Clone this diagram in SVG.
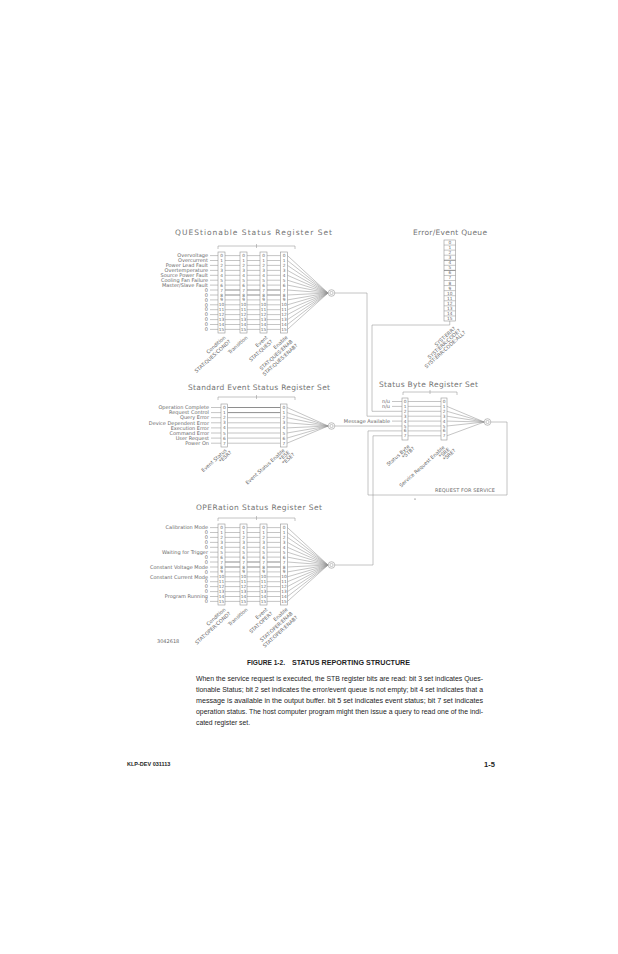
<svg xmlns="http://www.w3.org/2000/svg" width="618" height="954" viewBox="0 0 618 954">
<style>
.t{font-family:"DejaVu Sans","Liberation Sans",sans-serif;fill:#6a6a6a}
.ttl{font-size:7.5px;fill:#747474}
.lb{font-size:5px;text-anchor:end}
.n{font-size:4.3px;text-anchor:middle}
.r{font-size:5px;text-anchor:end}
.ln{fill:none;stroke:#959595;stroke-width:0.55}
.dk{fill:none;stroke:#7a7a7a;stroke-width:0.85}
.bx{fill:#fff;stroke:#959595;stroke-width:0.6}
.b{font-family:"Liberation Sans",Arial,sans-serif;fill:#1e1e1e}
</style>
<defs>
<g id="c16">
<rect class="bx" x="0" y="0" width="7" height="81"/>
<g class="t n">
<text x="3.5" y="5.1">0</text><text x="3.5" y="10">1</text><text x="3.5" y="14.9">2</text><text x="3.5" y="19.9">3</text>
<text x="3.5" y="24.8">4</text><text x="3.5" y="29.7">5</text><text x="3.5" y="34.6">6</text><text x="3.5" y="39.5">7</text>
<text x="3.5" y="44.5">8</text><text x="3.5" y="49.4">9</text><text x="3.5" y="54.3">10</text><text x="3.5" y="59.2">11</text>
<text x="3.5" y="64.1">12</text><text x="3.5" y="69.1">13</text><text x="3.5" y="74">14</text><text x="3.5" y="78.9">15</text>
</g>
</g>
<g id="reg16">
<path class="ln" d="M-8 3.6H0M-8 8.5H0M-8 13.4H0M-8 18.4H0M-8 23.3H0M-8 28.2H0M-8 33.1H0M-8 38H0M-8 43H0M-8 47.9H0M-8 52.8H0M-8 57.7H0M-8 62.6H0M-8 67.6H0M-8 72.5H0M-8 77.4H0"/>
<path class="ln" d="M7 3.6H22M29 3.6H42M49 3.6H62.5M7 8.5H22M29 8.5H42M49 8.5H62.5M7 13.4H22M29 13.4H42M49 13.4H62.5M7 18.4H22M29 18.4H42M49 18.4H62.5M7 23.3H22M29 23.3H42M49 23.3H62.5M7 28.2H22M29 28.2H42M49 28.2H62.5M7 33.1H22M29 33.1H42M49 33.1H62.5M7 47.9H22M29 47.9H42M49 47.9H62.5M7 52.8H22M29 52.8H42M49 52.8H62.5M7 57.7H22M29 57.7H42M49 57.7H62.5M7 62.6H22M29 62.6H42M49 62.6H62.5M7 67.6H22M29 67.6H42M49 67.6H62.5M7 72.5H22M29 72.5H42M49 72.5H62.5M7 77.4H22M29 77.4H42M49 77.4H62.5"/>
<path class="dk" d="M7 38H22M29 38H42M49 38H62.5M7 43H22M29 43H42M49 43H62.5"/>
<use href="#c16" x="0" y="0"/>
<use href="#c16" x="22" y="0"/>
<use href="#c16" x="42" y="0"/>
<use href="#c16" x="62.5" y="0"/>
<path class="ln" d="M69.5 3.6L110 41M69.5 8.5L110 41M69.5 13.4L110 41M69.5 18.4L110 41M69.5 23.3L110 41M69.5 28.2L110 41M69.5 33.1L110 41M69.5 38L110 41M69.5 43L110 41M69.5 47.9L110 41M69.5 52.8L110 41M69.5 57.7L110 41M69.5 62.6L110 41M69.5 67.6L110 41M69.5 72.5L110 41M69.5 77.4L110 41"/>
<circle class="bx" cx="113.5" cy="41" r="3.3"/>
<circle class="ln" cx="113.5" cy="41" r="1.6"/>
</g>
</defs>
<rect width="618" height="954" fill="#fff"/>

<g id="connectors">
<path class="ln" d="M334.8 293H367V416.2H402"/>
<path class="ln" d="M449.75 321V325H372V411.3H402"/>
<path class="ln" d="M334.8 426H402"/>
<path class="ln" d="M334.8 565H373V435.8H402"/>
<path class="ln" d="M490.8 422H507V495H368V430.9H402"/>
</g>

<g id="ques">
<text class="t ttl" x="175" y="235" textLength="157" lengthAdjust="spacing">QUEStionable Status Register Set</text>
<path class="ln" d="M218 249V246H295V249M256.5 244V248"/>
<use href="#reg16" x="218" y="252"/>
<g class="t lb">
<text x="208" y="257.3">Overvoltage</text><text x="208" y="262.2">Overcurrent</text><text x="208" y="267.1">Power Lead Fault</text><text x="208" y="272.1">Overtemperature</text>
<text x="208" y="277">Source Power Fault</text><text x="208" y="281.9">Cooling Fan Failure</text><text x="208" y="286.8">Master/Slave Fault</text><text x="208" y="291.7">0</text>
<text x="208" y="296.7">0</text><text x="208" y="301.6">0</text><text x="208" y="306.5">0</text><text x="208" y="311.4">0</text>
<text x="208" y="316.3">0</text><text x="208" y="321.3">0</text><text x="208" y="326.2">0</text><text x="208" y="331.1">0</text>
</g>
<g class="t r">
<text transform="translate(226 338) rotate(-42)">Condition</text>
<text transform="translate(231 342) rotate(-42)">STAT:QUES:COND?</text>
<text transform="translate(248 338) rotate(-42)">Transition</text>
<text transform="translate(268 338) rotate(-42)">Event</text>
<text transform="translate(273 342) rotate(-42)">STAT:QUES?</text>
<text transform="translate(288 338) rotate(-42)">Enable</text>
<text transform="translate(293 342) rotate(-42)">STAT:QUES:ENAB</text>
<text transform="translate(298 346) rotate(-42)">STAT:QUES:ENAB?</text>
</g>
</g>

<g id="queue">
<text class="t ttl" x="413" y="235" textLength="74" lengthAdjust="spacing">Error/Event Queue</text>
<rect class="bx" x="444" y="240" width="11.5" height="81"/>
<path class="ln" d="M444 245.06H455.5M444 250.13H455.5M444 255.19H455.5M444 265.31H455.5M444 275.44H455.5M444 280.5H455.5M444 285.56H455.5M444 290.63H455.5M444 295.69H455.5M444 300.75H455.5M444 305.81H455.5M444 310.88H455.5M444 315.94H455.5"/>
<path class="dk" d="M444 260.25H455.5M444 270.38H455.5"/>
<g class="t n">
<text x="449.75" y="244">0</text><text x="449.75" y="249.1">1</text><text x="449.75" y="254.1">2</text><text x="449.75" y="259.2">3</text>
<text x="449.75" y="264.3">4</text><text x="449.75" y="269.3">5</text><text x="449.75" y="274.4">6</text><text x="449.75" y="279.4">7</text>
<text x="449.75" y="284.5">8</text><text x="449.75" y="289.6">9</text><text x="449.75" y="294.6">10</text><text x="449.75" y="299.7">11</text>
<text x="449.75" y="304.8">12</text><text x="449.75" y="309.8">13</text><text x="449.75" y="314.9">14</text><text x="449.75" y="319.9">15</text>
</g>
<g class="t r">
<text transform="translate(456 329) rotate(-42)">SYST:ERR?</text>
<text transform="translate(461 331) rotate(-42)">SYST:ERR:CODE?</text>
<text transform="translate(466 333) rotate(-42)">SYST:ERR:CODE:ALL?</text>
</g>
</g>

<g id="std">
<text class="t ttl" x="188" y="389.5" textLength="142" lengthAdjust="spacing">Standard Event Status Register Set</text>
<path class="ln" d="M218 400V397H295V400M256.5 395V399"/>
<path class="ln" d="M211 407.5H221M211 412.6H221M211 417.7H221M211 422.8H221M211 427.9H221M211 433H221M211 438.1H221M211 443.2H221"/>
<path class="dk" d="M227.5 407.5H280.5M227.5 412.6H280.5"/>
<path class="ln" d="M227.5 417.7H280.5M227.5 422.8H280.5M227.5 427.9H280.5M227.5 433H280.5M227.5 438.1H280.5M227.5 443.2H280.5"/>
<rect class="bx" x="221" y="404" width="6.5" height="43"/>
<rect class="bx" x="280.5" y="404" width="6.5" height="43"/>
<g class="t n">
<text x="224.25" y="409">0</text><text x="224.25" y="414.1">1</text><text x="224.25" y="419.2">2</text><text x="224.25" y="424.3">3</text>
<text x="224.25" y="429.4">4</text><text x="224.25" y="434.5">5</text><text x="224.25" y="439.6">6</text><text x="224.25" y="444.7">7</text>
<text x="283.75" y="409">0</text><text x="283.75" y="414.1">1</text><text x="283.75" y="419.2">2</text><text x="283.75" y="424.3">3</text>
<text x="283.75" y="429.4">4</text><text x="283.75" y="434.5">5</text><text x="283.75" y="439.6">6</text><text x="283.75" y="444.7">7</text>
</g>
<path class="ln" d="M287 407.5L328.2 426M287 412.6L328.2 426M287 417.7L328.2 426M287 422.8L328.2 426M287 427.9L328.2 426M287 433L328.2 426M287 438.1L328.2 426M287 443.2L328.2 426"/>
<circle class="bx" cx="331.5" cy="426" r="3.3"/>
<circle class="ln" cx="331.5" cy="426" r="1.6"/>
<g class="t lb">
<text x="209" y="409.2">Operation Complete</text><text x="209" y="414.3">Request Control</text><text x="209" y="419.4">Query Error</text><text x="209" y="424.5">Device Dependent Error</text>
<text x="209" y="429.6">Execution Error</text><text x="209" y="434.7">Command Error</text><text x="209" y="439.8">User Request</text><text x="209" y="444.9">Power On</text>
</g>
<g class="t r">
<text transform="translate(227 451) rotate(-42)">Event Status</text>
<text transform="translate(232 453) rotate(-42)">*ESR?</text>
<text transform="translate(285 451) rotate(-42)">Event Status Enable</text>
<text transform="translate(290 453) rotate(-42)">*ESE</text>
<text transform="translate(295 455) rotate(-42)">*ESE?</text>
</g>
</g>

<g id="stb">
<text class="t ttl" x="379" y="387" textLength="99" lengthAdjust="spacing">Status Byte Register Set</text>
<path class="ln" d="M403 395V392H457V395M430 390V394"/>
<path class="ln" d="M392 401.5H402M392 406.4H402M392 421.1H402"/>
<path class="ln" d="M408 401.5H441M408 406.4H441M408 411.3H441M408 416.2H441M408 421.1H441M408 426H441M408 430.9H441M408 435.8H441"/>
<rect class="bx" x="402" y="398" width="6" height="42"/>
<rect class="bx" x="441" y="398" width="6" height="42"/>
<g class="t n">
<text x="405" y="403">0</text><text x="405" y="407.9">1</text><text x="405" y="412.8">2</text><text x="405" y="417.7">3</text>
<text x="405" y="422.6">4</text><text x="405" y="427.5">5</text><text x="405" y="432.4">6</text><text x="405" y="437.3">7</text>
<text x="444" y="403">0</text><text x="444" y="407.9">1</text><text x="444" y="412.8">2</text><text x="444" y="417.7">3</text>
<text x="444" y="422.6">4</text><text x="444" y="427.5">5</text><text x="444" y="432.4">6</text><text x="444" y="437.3">7</text>
</g>
<path class="ln" d="M447 406.4L484.2 422M447 411.3L484.2 422M447 416.2L484.2 422M447 421.1L484.2 422M447 426L484.2 422M447 435.8L484.2 422"/>
<circle class="bx" cx="487.5" cy="422" r="3.3"/>
<circle class="ln" cx="487.5" cy="422" r="1.6"/>
<g class="t lb">
<text x="390" y="403.2">n/u</text><text x="390" y="408.1">n/u</text>
<text x="390" y="422.8">Message Available</text>
</g>
<g class="t r">
<text transform="translate(410 447) rotate(-42)">Status Byte</text>
<text transform="translate(415 449) rotate(-42)">*STB?</text>
<text transform="translate(445 448) rotate(-42)">Service Request Enable</text>
<text transform="translate(450 450) rotate(-42)">*SRE</text>
<text transform="translate(456 451) rotate(-42)">*SRE?</text>
</g>
<text class="t" x="435" y="492" font-size="5" textLength="60" lengthAdjust="spacing">REQUEST FOR SERVICE</text>
<circle cx="415" cy="499" r="0.6" fill="#444"/>
</g>

<g id="oper">
<text class="t ttl" x="196" y="510" textLength="126" lengthAdjust="spacing">OPERation Status Register Set</text>
<path class="ln" d="M218 521V518H295V521M256.5 516V520"/>
<use href="#reg16" x="218" y="524"/>
<g class="t lb">
<text x="208" y="529.3">Calibration Mode</text><text x="208" y="534.2">0</text><text x="208" y="539.1">0</text><text x="208" y="544.1">0</text>
<text x="208" y="549">0</text><text x="208" y="553.9">Waiting for Trigger</text><text x="208" y="558.8">0</text><text x="208" y="563.7">0</text>
<text x="208" y="568.7">Constant Voltage Mode</text><text x="208" y="573.6">0</text><text x="208" y="578.5">Constant Current Mode</text><text x="208" y="583.4">0</text>
<text x="208" y="588.3">0</text><text x="208" y="593.3">0</text><text x="208" y="598.2">Program Running</text><text x="208" y="603.1">0</text>
</g>
<g class="t r">
<text transform="translate(226 610) rotate(-42)">Condition</text>
<text transform="translate(231 614) rotate(-42)">STAT:OPER:COND?</text>
<text transform="translate(248 610) rotate(-42)">Transition</text>
<text transform="translate(268 610) rotate(-42)">Event</text>
<text transform="translate(273 614) rotate(-42)">STAT:OPER?</text>
<text transform="translate(288 610) rotate(-42)">Enable</text>
<text transform="translate(293 614) rotate(-42)">STAT:OPER:ENAB</text>
<text transform="translate(298 618) rotate(-42)">STAT:OPER:ENAB?</text>
</g>
<text class="t" x="157" y="643" font-size="5">3042618</text>
</g>

<g id="caption">
<text class="b" x="247" y="665" font-size="7" font-weight="bold" textLength="38" lengthAdjust="spacingAndGlyphs">FIGURE 1-2.</text>
<text class="b" x="292" y="665" font-size="7" font-weight="bold" textLength="118" lengthAdjust="spacingAndGlyphs">STATUS REPORTING STRUCTURE</text>
<g class="b" font-size="6.8">
<text x="196" y="681" textLength="287" lengthAdjust="spacingAndGlyphs">When the service request is executed, the STB register bits are read: bit 3 set indicates Ques-</text>
<text x="196" y="692" textLength="287" lengthAdjust="spacingAndGlyphs">tionable Status; bit 2 set indicates the error/event queue is not empty; bit 4 set indicates that a</text>
<text x="196" y="703" textLength="287" lengthAdjust="spacingAndGlyphs">message is available in the output buffer. bit 5 set indicates event status; bit 7 set indicates</text>
<text x="196" y="714" textLength="287" lengthAdjust="spacingAndGlyphs">operation status. The host computer program might then issue a query to read one of the indi-</text>
<text x="196" y="725">cated register set.</text>
</g>
<text class="b" x="127" y="766" font-size="5.5" font-weight="bold">KLP-DEV  031113</text>
<text class="b" x="484" y="767" font-size="7.5" font-weight="bold">1-5</text>
</g>
</svg>
